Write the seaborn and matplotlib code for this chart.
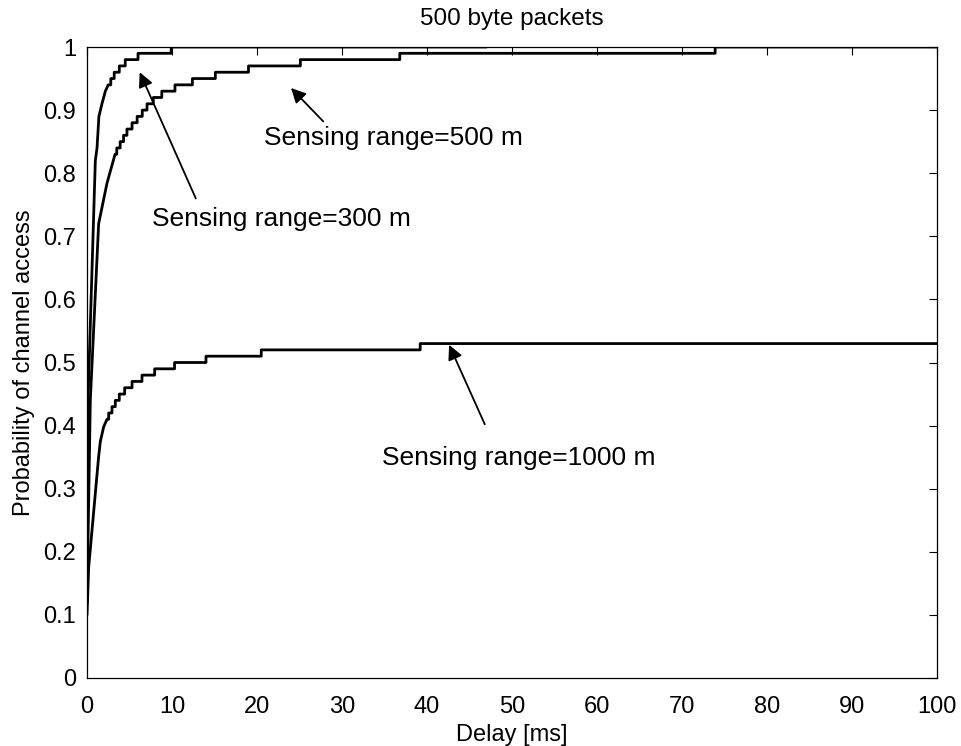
import matplotlib
matplotlib.use("Agg")
import matplotlib.pyplot as plt
import numpy as np
import pandas as pd
import seaborn as sns

# ---- data ----
series_names = ["Sensing range=300 m", "Sensing range=500 m", "Sensing range=1000 m"]

r300_smooth_x = [0, 0.12, 0.98, 1.18, 1.4, 1.76, 2.16, 2.5]
r300_smooth_y = [0.12, 0.44, 0.82, 0.84, 0.89, 0.91, 0.93, 0.94]
r300_step_x = [2.8, 3.2, 3.8, 4.5, 6.0, 9.9]
r300_step_y = [0.95, 0.96, 0.97, 0.98, 0.99, 1.00]
r300_end = 47

r500_smooth_x = [0, 0.39, 1.37, 2.35, 3.3]
r500_smooth_y = [0.12, 0.44, 0.72, 0.784, 0.83]
r500_step_x = [3.5, 3.9, 4.3, 4.7, 5.3, 5.9, 6.5, 7.06, 7.8, 8.8, 10.35, 12.4,
               15.1, 19.0, 25.1, 36.8, 73.9]
r500_step_y = [0.84, 0.85, 0.86, 0.87, 0.88, 0.89, 0.90, 0.91, 0.92, 0.93, 0.94,
               0.95, 0.96, 0.97, 0.98, 0.99, 1.00]
r500_end = 100

r1000_smooth_x = [0, 0.2, 1.37, 1.57, 1.96, 2.35]
r1000_smooth_y = [0.10, 0.176, 0.351, 0.375, 0.398, 0.41]
r1000_step_x = [2.55, 2.94, 3.33, 3.8, 4.43, 5.3, 6.47, 7.96, 10.3, 14.0, 20.5, 39.2]
r1000_step_y = [0.42, 0.43, 0.44, 0.45, 0.46, 0.47, 0.48, 0.49, 0.50, 0.51, 0.52, 0.53]
r1000_end = 100

x_ticks = [0, 10, 20, 30, 40, 50, 60, 70, 80, 90, 100]
y_ticks = [0, 0.1, 0.2, 0.3, 0.4, 0.5, 0.6, 0.7, 0.8, 0.9, 1.0]

# annotations: (text x, text y, arrow tail x, tail y, arrow head x, head y)
ann_500 = (20.8, 0.856, 27.8, 0.882, 24.0, 0.935)
ann_300 = (7.6, 0.727, 12.8, 0.760, 6.2, 0.960)
ann_1000 = (34.7, 0.349, 46.8, 0.402, 42.6, 0.528)


def build(name, sx, sy, tx, ty, end):
    xs, ys = list(sx), list(sy)
    level = ys[-1]
    for x, y in zip(tx, ty):
        xs += [x, x]
        ys += [level, y]
        level = y
    xs.append(end)
    ys.append(level)
    return pd.DataFrame({"Delay": xs, "Prob": ys, "series": name,
                         "order": np.arange(len(xs))})


df = pd.concat([
    build(series_names[0], r300_smooth_x, r300_smooth_y, r300_step_x, r300_step_y, r300_end),
    build(series_names[1], r500_smooth_x, r500_smooth_y, r500_step_x, r500_step_y, r500_end),
    build(series_names[2], r1000_smooth_x, r1000_smooth_y, r1000_step_x, r1000_step_y, r1000_end),
], ignore_index=True)

sns.set_theme(style="white")
plt.rcParams["font.family"] = ["Liberation Sans", "DejaVu Sans"]

fig = plt.figure(figsize=(9.62, 7.46), dpi=100)
ax = fig.add_axes([87 / 962, 1 - 678 / 746, (937 - 87) / 962, (678 - 47) / 746])

sns.lineplot(data=df, x="Delay", y="Prob", units="series", estimator=None,
             sort=False, color="black", linewidth=2.0, ax=ax, legend=False)

ax.set_xlim(0, 100)
ax.set_ylim(0, 1)
ax.set_xticks(x_ticks)
ax.set_yticks(y_ticks)
ax.set_xticklabels([f"{v:g}" for v in x_ticks])
ax.set_yticklabels([f"{v:g}" for v in y_ticks])
ax.tick_params(direction="in", length=6, width=0.8, top=True, right=True,
               labelsize=17, colors="black")
ax.tick_params(axis="x", pad=13)
ax.tick_params(axis="y", pad=8)
for s in ax.spines.values():
    s.set_color("black")
    s.set_linewidth(0.9)

ax.set_xlabel("Delay [ms]", fontsize=17, color="black", labelpad=4)
ax.set_ylabel("Probability of channel access", fontsize=17, color="black", labelpad=6)
ax.set_title("500 byte packets", fontsize=17.5, color="black", pad=16)

for name, a in zip([series_names[1], series_names[0], series_names[2]],
                   [ann_500, ann_300, ann_1000]):
    tx, ty, x0, y0, x1, y1 = a
    ax.text(tx, ty, name, fontsize=19, color="black", va="center", ha="left")
    ax.annotate("", xy=(x1, y1), xytext=(x0, y0),
                arrowprops=dict(arrowstyle="-|>", color="black", lw=1.3,
                                mutation_scale=22, shrinkA=0, shrinkB=0))

fig.savefig("out.png", dpi=100, facecolor="white")
